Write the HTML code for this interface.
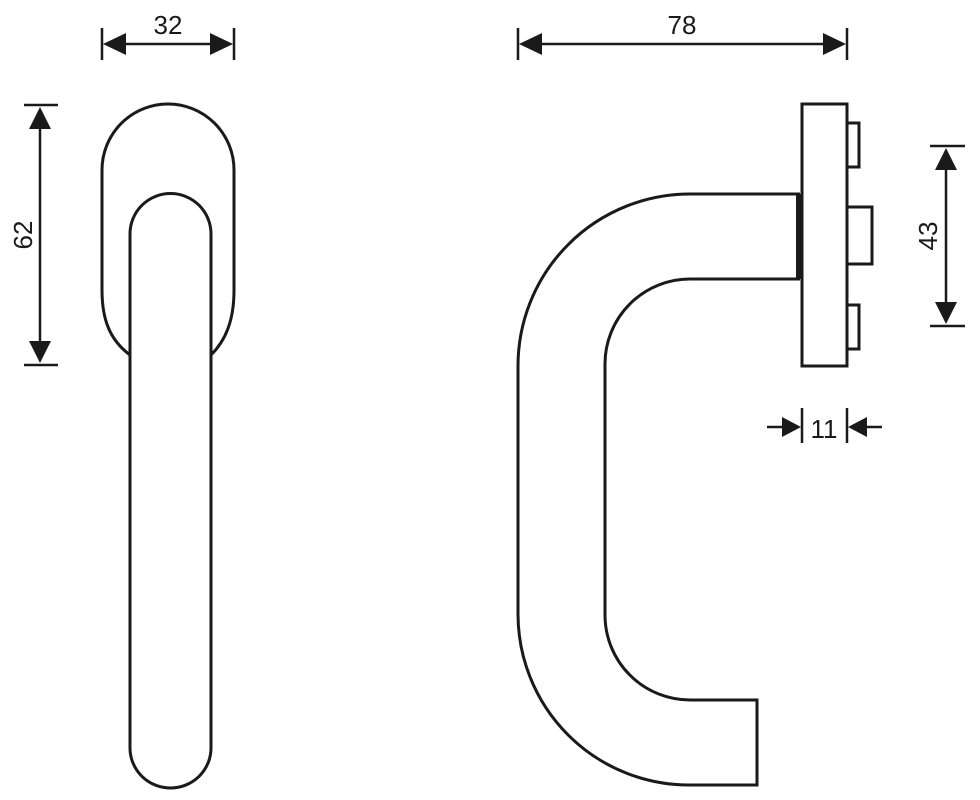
<!DOCTYPE html>
<html><head><style>html,body{margin:0;padding:0;background:#fff}</style></head><body>
<svg width="980" height="795" viewBox="0 0 980 795" xmlns="http://www.w3.org/2000/svg" font-family="Liberation Sans Narrow, Liberation Sans, sans-serif">
<g fill="none" stroke="#1a1a1a" stroke-width="3">
<path d="M130,355 C110,340 102,320 102,290 L102,170 A66,66 0 0 1 234,170 L234,290 C234,320 226,340 211,355"/>
<path d="M130,748 L130,234 A40.5,40.5 0 0 1 211,234 L211,748 A40.5,40 0 0 1 130,748 Z"/>
<path d="M800,194 L690,194 A172,172 0 0 0 518,366 L518,614 A171,171 0 0 0 689,785 L757,785 L757,700 L690,700 A85,85 0 0 1 605,615 L605,364 A85,85 0 0 1 690,279 L800,279"/>
<rect x="802" y="104" width="45" height="262"/>
<rect x="847" y="123" width="12" height="44"/>
<rect x="847" y="207" width="25" height="57"/>
<rect x="847" y="305" width="12" height="44"/>
<g stroke-width="2.5">
<line x1="102" y1="28" x2="102" y2="60"/><line x1="234" y1="28" x2="234" y2="60"/><line x1="120" y1="44" x2="216" y2="44"/>
<line x1="24" y1="105" x2="58" y2="105"/><line x1="24" y1="365" x2="58" y2="365"/><line x1="40" y1="120" x2="40" y2="350"/>
<line x1="518" y1="28" x2="518" y2="60"/><line x1="847" y1="28" x2="847" y2="60"/><line x1="535" y1="44" x2="830" y2="44"/>
<line x1="930" y1="146" x2="965" y2="146"/><line x1="930" y1="326" x2="965" y2="326"/><line x1="946" y1="160" x2="946" y2="312"/>
<line x1="802" y1="408" x2="802" y2="443"/><line x1="847" y1="408" x2="847" y2="443"/>
<line x1="767" y1="427" x2="790" y2="427"/><line x1="860" y1="427" x2="882" y2="427"/>
</g>
</g>
<rect x="796" y="194" width="6" height="85" fill="#1a1a1a"/>
<g fill="#1a1a1a">
<polygon points="103,44 126,33 126,55"/><polygon points="233,44 210,33 210,55"/>
<polygon points="40,107 29,129 51,129"/><polygon points="40,363 29,341 51,341"/>
<polygon points="519,44 542,33 542,55"/><polygon points="846,44 823,33 823,55"/>
<polygon points="946,148 935,170 957,170"/><polygon points="946,324 935,302 957,302"/>
<polygon points="801,427 782,417 782,437"/><polygon points="848,427 867,417 867,437"/>
</g>
<g fill="#1a1a1a" font-size="26">
<text x="168" y="34" text-anchor="middle">32</text>
<text x="682" y="34" text-anchor="middle">78</text>
<text x="824" y="438" text-anchor="middle">11</text>
<text transform="translate(32,235) rotate(-90)" text-anchor="middle">62</text>
<text transform="translate(937,236) rotate(-90)" text-anchor="middle">43</text>
</g>
</svg>
</body></html>
